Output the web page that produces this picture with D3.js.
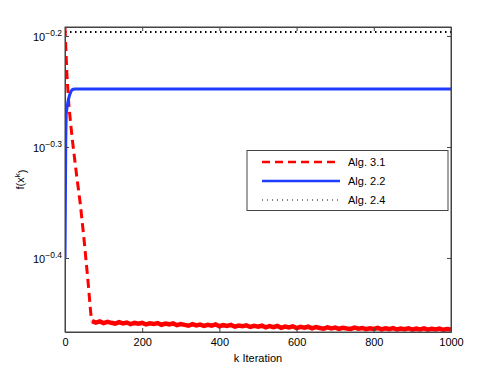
<!DOCTYPE html>
<html>
<head>
<meta charset="utf-8">
<script src="https://cdn.jsdelivr.net/npm/d3@7"></script>
<style>
  body { margin: 0; background: #fff; }
  text { font-family: "Liberation Sans", Arial, Helvetica, sans-serif; }
</style>
</head>
<body>
<div id="chart"></div>
<script>
// series names shown in the legend
var seriesNames = ["Alg. 3.1", "Alg. 2.2", "Alg. 2.4"];

// Alg. 3.1 : fast drop then a noisy plateau
var alg31DropK = [0, 5, 10, 15, 20, 30, 40, 50, 60, 66, 68];
var alg31DropF = [0.6414, 0.5820, 0.5468, 0.5246, 0.5054, 0.4729, 0.4443, 0.4115, 0.3780, 0.3574, 0.3515];
var alg31TailK = d3.range(70, 1001, 10);
var alg31TailF = [
    0.3492, 0.3481, 0.3490, 0.3478, 0.3487, 0.3480, 0.3474, 0.3485, 0.3476, 0.3482,
    0.3470, 0.3479, 0.3473, 0.3480, 0.3468, 0.3476, 0.3471, 0.3478, 0.3466, 0.3474,
    0.3469, 0.3476, 0.3463, 0.3471, 0.3465, 0.3459, 0.3470, 0.3461, 0.3467, 0.3458,
    0.3466, 0.3460, 0.3469, 0.3455, 0.3463, 0.3458, 0.3465, 0.3452, 0.3460, 0.3455,
    0.3462, 0.3450, 0.3458, 0.3452, 0.3459, 0.3447, 0.3456, 0.3449, 0.3457, 0.3444,
    0.3453, 0.3447, 0.3455, 0.3442, 0.3451, 0.3445, 0.3452, 0.3440, 0.3449, 0.3443,
    0.3438, 0.3447, 0.3440, 0.3446, 0.3437, 0.3444, 0.3439, 0.3436, 0.3446, 0.3438,
    0.3443, 0.3434, 0.3441, 0.3436, 0.3443, 0.3433, 0.3440, 0.3435, 0.3442, 0.3432,
    0.3439, 0.3434, 0.3441, 0.3431, 0.3438, 0.3433, 0.3440, 0.3431, 0.3437, 0.3432,
    0.3439, 0.3430, 0.3436, 0.3431
];

// Alg. 2.2 : quick rise to a flat level
var alg22K = [0, 1, 2, 3, 5, 8, 12, 16, 20, 25, 1000];
var alg22F = [0.3981, 0.4489, 0.5084, 0.5356, 0.5435, 0.5515, 0.5584, 0.5630, 0.5647, 0.5652, 0.5652];

// Alg. 2.4 : flat
var alg24K = [0, 1000];
var alg24F = [0.6362, 0.6362];

// ticks
var xTicks = [0, 200, 400, 600, 800, 1000];
var yTickExp = [-0.4, -0.3, -0.2];
var yLimExp = [-0.4667, -0.1919];

var width = 498, height = 375;
var plot = { left: 65, right: 451, top: 27, bottom: 332 };

var svg = d3.select("#chart").append("svg")
    .attr("width", width)
    .attr("height", height);

var x = d3.scaleLinear().domain([0, 1000]).range([plot.left, plot.right]);
var y = d3.scaleLog()
    .domain([Math.pow(10, yLimExp[0]), Math.pow(10, yLimExp[1])])
    .range([plot.bottom, plot.top]);

svg.append("clipPath").attr("id", "clip")
  .append("rect")
    .attr("x", plot.left).attr("y", plot.top)
    .attr("width", plot.right - plot.left)
    .attr("height", plot.bottom - plot.top);

var line = d3.line()
    .x(function(d) { return x(d[0]); })
    .y(function(d) { return y(d[1]); });

function zip(a, b) { return a.map(function(v, i) { return [v, b[i]]; }); }

var lines = svg.append("g").attr("clip-path", "url(#clip)");

// black dotted
lines.append("path")
    .attr("d", line(zip(alg24K, alg24F)))
    .attr("fill", "none")
    .attr("stroke", "#000")
    .attr("stroke-width", 2)
    .attr("stroke-dasharray", "1.5,3.5");

// red: dashed drop, dense plateau
var redDrop = zip(alg31DropK, alg31DropF).concat([[alg31TailK[0], alg31TailF[0]]]);
lines.append("path")
    .attr("d", line(redDrop))
    .attr("fill", "none")
    .attr("stroke", "#ff0000")
    .attr("stroke-width", 3)
    .attr("stroke-dasharray", "9,5");
lines.append("path")
    .attr("d", line(zip(alg31TailK, alg31TailF)))
    .attr("fill", "none")
    .attr("stroke", "#ff0000")
    .attr("stroke-width", 4.5)
    .attr("stroke-linejoin", "miter");

// blue
lines.append("path")
    .attr("d", line(zip(alg22K, alg22F)))
    .attr("fill", "none")
    .attr("stroke", "#1f3cff")
    .attr("stroke-width", 3);

// axes box
var axisColor = "#444";
var tickLen = 4;

var gx = svg.append("g")
    .attr("transform", "translate(0," + plot.bottom + ")")
    .call(d3.axisBottom(x).tickValues(xTicks).tickFormat(d3.format("d"))
        .tickSizeInner(-tickLen).tickSizeOuter(0).tickPadding(6));
svg.append("g")
    .attr("transform", "translate(0," + plot.top + ")")
    .call(d3.axisTop(x).tickValues(xTicks).tickFormat("")
        .tickSizeInner(-tickLen).tickSizeOuter(0));

var yTickVals = yTickExp.map(function(e) { return Math.pow(10, e); });
var gy = svg.append("g")
    .attr("transform", "translate(" + plot.left + ",0)")
    .call(d3.axisLeft(y).tickValues(yTickVals).tickFormat("")
        .tickSizeInner(-tickLen).tickSizeOuter(0).tickPadding(3));
svg.append("g")
    .attr("transform", "translate(" + plot.right + ",0)")
    .call(d3.axisRight(y).tickValues(yTickVals).tickFormat("")
        .tickSizeInner(-tickLen).tickSizeOuter(0));

svg.selectAll(".domain, .tick line").attr("stroke", axisColor);
svg.selectAll(".tick text").attr("fill", "#000").style("font-size", "11px")
    .style("font-family", "Liberation Sans, Arial, sans-serif");

// y tick labels as 10^e
gy.selectAll(".tick").each(function(d, i) {
    var t = d3.select(this).select("text").attr("dy", "0.4em").attr("x", -3);
    t.append("tspan").text("10");
    t.append("tspan")
        .attr("dy", "-0.55em")
        .style("font-size", "8.5px")
        .text("\u2212" + Math.abs(yTickExp[i]).toFixed(1));
});

// the box lines (left & top sides drawn by domain only with outer size 0)
svg.append("rect")
    .attr("x", plot.left).attr("y", plot.top)
    .attr("width", plot.right - plot.left)
    .attr("height", plot.bottom - plot.top)
    .attr("fill", "none")
    .attr("stroke", axisColor)
    .attr("stroke-width", 1);

// axis labels
svg.append("text")
    .attr("x", (plot.left + plot.right) / 2)
    .attr("y", 362)
    .attr("text-anchor", "middle")
    .style("font-size", "11px")
    .text("k Iteration");

var yl = svg.append("text")
    .attr("transform", "translate(24," + ((plot.top + plot.bottom) / 2) + ") rotate(-90)")
    .attr("text-anchor", "middle")
    .style("font-size", "11px");
yl.append("tspan").text("f(x");
yl.append("tspan").attr("dy", "-0.5em").style("font-size", "8px").text("k");
yl.append("tspan").attr("dy", "0.5em").text(")");

// legend
var legend = svg.append("g");
legend.append("rect")
    .attr("x", 247).attr("y", 150.5)
    .attr("width", 201).attr("height", 60)
    .attr("fill", "#fff")
    .attr("stroke", axisColor)
    .attr("stroke-width", 1);

var legendStyles = [
    { color: "#ff0000", width: 2.5, dash: "8,5" },
    { color: "#1f3cff", width: 2.5, dash: null },
    { color: "#000", width: 1, dash: "1,4" }
];
seriesNames.forEach(function(name, i) {
    var ly = 162 + i * 19;
    var s = legendStyles[i];
    legend.append("line")
        .attr("x1", 262).attr("x2", 340)
        .attr("y1", ly).attr("y2", ly)
        .attr("stroke", s.color)
        .attr("stroke-width", s.width)
        .attr("stroke-dasharray", s.dash);
    legend.append("text")
        .attr("x", 348).attr("y", ly)
        .attr("dy", "0.35em")
        .style("font-size", "11px")
        .text(name);
});
</script>
</body>
</html>
